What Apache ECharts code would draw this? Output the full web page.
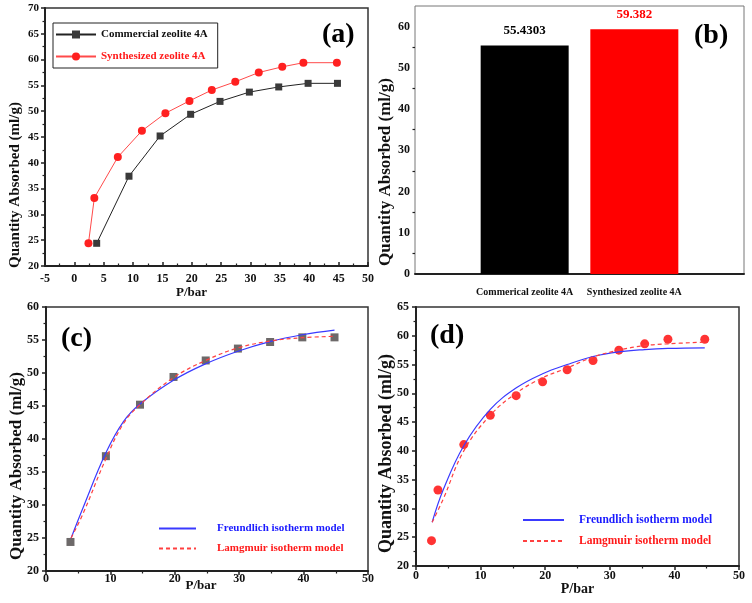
<!DOCTYPE html>
<html>
<head>
    <meta charset="utf-8">
    <title>Zeolite 4A adsorption</title>
    <style>
        html, body { margin: 0; padding: 0; background: #fff; }
        #main { width: 752px; height: 603px; }
    </style>
</head>
<body>
    <div id="main"></div>
    <script src="https://cdn.jsdelivr.net/npm/echarts@6/dist/echarts.min.js"></script>
    <script type="text/javascript">
        // measured points, commercial zeolite 4A
        var pComm = [3.8, 9.3, 14.6, 19.8, 24.8, 29.8, 34.8, 39.8, 44.8];
        var qComm = [24.4, 37.4, 45.2, 49.4, 51.9, 53.7, 54.7, 55.4, 55.4];
        // measured points, synthesized zeolite 4A
        var pSyn = [2.4, 3.4, 7.4, 11.5, 15.5, 19.6, 23.4, 27.4, 31.4, 35.4, 39.0, 44.7];
        var qSyn = [24.4, 33.2, 41.1, 46.2, 49.6, 52.0, 54.1, 55.7, 57.5, 58.6, 59.4, 59.4];
        // (b) bars
        var barCats = ['', 'Commerical zeolite 4A', 'Synthesized zeolite 4A', ''];
        var barVals = ['-', 55.4303, 59.382, '-'];
        // (c) fitted curves
        var pFitC = [3.9, 5.8, 9.3, 12.0, 14.6, 19.8, 24.8, 29.8, 34.9, 39.8, 44.8];
        var freundC = [25.0, 29.7, 37.9, 42.6, 45.3, 48.9, 51.4, 53.3, 54.8, 55.8, 56.5];
        var langC = [25.0, 28.8, 37.0, 42.3, 45.2, 49.3, 51.9, 53.8, 54.85, 55.35, 55.55];
        // (d) fitted curves
        var pFitD = [2.5, 4.2, 7.4, 11.5, 15.6, 19.6, 23.4, 27.4, 31.4, 35.4, 39.0, 44.7];
        var freundD = [27.6, 33.2, 40.9, 47.2, 51.0, 53.4, 55.0, 56.4, 57.2, 57.6, 57.8, 57.9];
        var langD = [27.6, 31.6, 40.0, 46.2, 50.1, 52.7, 54.4, 56.3, 57.5, 58.3, 58.6, 58.9];

        var FONT = '"Liberation Serif", "Times New Roman", serif';
        var FREUND = 'Freundlich isotherm model';
        var LANG = 'Lamgmuir isotherm model';

        function pairs(xs, ys) {
            return xs.map(function (x, i) { return [x, ys[i]]; });
        }

        function bold(size, color) {
            return { fontFamily: FONT, fontWeight: 'bold', fontSize: size, color: color || '#111' };
        }

        // value axis with the usual look of these panels
        function valAxis(gi, min, max, step, o) {
            return {
                type: 'value', gridIndex: gi, min: min, max: max, interval: step,
                name: o.name, nameLocation: 'middle', nameGap: o.gap, nameMoveOverlap: false,
                nameTextStyle: Object.assign(bold(o.nameSize), { padding: o.namePad || 0 }),
                splitLine: { show: false },
                axisLine: { onZero: false, lineStyle: { color: '#222', width: 2 } },
                axisTick: { inside: !!o.inside, length: 4, lineStyle: { color: '#222', width: 1.5 } },
                minorTick: { show: true, splitNumber: 2, length: 2.5, lineStyle: { color: '#222', width: 1.2 } },
                axisLabel: Object.assign(bold(o.labelSize || 12), { margin: o.margin, showMaxLabel: o.showMax !== false })
            };
        }

        var chart = echarts.init(document.getElementById('main'));

        var option = {
            animation: false,
            backgroundColor: '#fff',
            title: [
                { text: '(a)', left: 322, top: 21, padding: 0, textStyle: bold(28, '#000') },
                { text: '(b)', left: 694, top: 22, padding: 0, textStyle: bold(28, '#000') },
                { text: '(c)', left: 61, top: 325, padding: 0, textStyle: bold(28, '#000') },
                { text: '(d)', left: 430, top: 322, padding: 0, textStyle: bold(28, '#000') }
            ],
            legend: [
                {
                    left: 53, top: 23, orient: 'vertical', selectedMode: false,
                    itemWidth: 40, itemHeight: 10, itemGap: 11,
                    borderColor: '#222', borderWidth: 1, padding: [6, 10, 6, 2],
                    textStyle: bold(11),
                    data: [
                        { name: 'Commercial zeolite 4A', textStyle: { color: '#111' } },
                        { name: 'Synthesized zeolite 4A', textStyle: { color: '#ff1a1a' } }
                    ]
                },
                {
                    left: 158, top: 523, orient: 'vertical', selectedMode: false,
                    itemWidth: 37, itemHeight: 10, itemGap: 9, padding: 0,
                    itemStyle: { opacity: 0 },
                    textStyle: Object.assign(bold(11), { padding: [0, 0, 0, 16] }),
                    data: [
                        { name: FREUND, textStyle: { color: '#1a1aff' } },
                        { name: LANG, textStyle: { color: '#ff1a1a' } }
                    ]
                },
                {
                    left: 522, top: 514, orient: 'vertical', selectedMode: false,
                    itemWidth: 41, itemHeight: 10, itemGap: 9, padding: 0,
                    itemStyle: { opacity: 0 },
                    textStyle: Object.assign(bold(11.5), { padding: [0, 0, 0, 10] }),
                    data: [
                        { name: FREUND, textStyle: { color: '#1a1aff' } },
                        { name: LANG, textStyle: { color: '#ff1a1a' } }
                    ]
                }
            ],
            grid: [
                { left: 45, top: 8, width: 323, height: 258, show: true, borderColor: '#333', borderWidth: 1.5 },
                { left: 415, top: 6, width: 329, height: 268, show: true, borderColor: '#777', borderWidth: 1 },
                { left: 46, top: 307, width: 322, height: 264, show: true, borderColor: '#333', borderWidth: 1.5 },
                { left: 416, top: 307, width: 323, height: 259, show: true, borderColor: '#333', borderWidth: 1.5 }
            ],
            xAxis: [
                valAxis(0, -5, 50, 5, { name: 'P/bar', gap: 20, nameSize: 13, namePad: [0, 30, 0, 0], inside: true, margin: 7 }),
                {
                    type: 'category', gridIndex: 1, data: barCats, boundaryGap: false,
                    axisLine: { lineStyle: { color: '#222', width: 2 } },
                    axisTick: { show: false },
                    axisLabel: Object.assign(bold(10), { interval: 0, margin: 13 })
                },
                valAxis(2, 0, 50, 10, { name: 'P/bar', gap: 8.5, nameSize: 13, namePad: [0, 12, 0, 0], margin: 2 }),
                valAxis(3, 0, 50, 10, { name: 'P/bar', gap: 16, nameSize: 14, margin: 4 })
            ],
            yAxis: [
                valAxis(0, 20, 70, 5, { name: 'Quantity Absorbed (ml/g)', gap: 22, nameSize: 15, namePad: [0, 96, 0, 0], margin: 6, labelSize: 11 }),
                valAxis(1, 0, 65, 10, { name: 'Quantity Absorbed (ml/g)', gap: 21, nameSize: 17, namePad: [0, 64, 0, 0], margin: 5, showMax: false }),
                valAxis(2, 20, 60, 5, { name: 'Quantity Absorbed (ml/g)', gap: 21, nameSize: 17, namePad: [0, 54, 0, 0], margin: 7 }),
                valAxis(3, 20, 65, 5, { name: 'Quantity Absorbed (ml/g)', gap: 21, nameSize: 18, namePad: [0, 34, 0, 0], margin: 7 })
            ],
            series: [
                {
                    name: 'Commercial zeolite 4A', type: 'line', xAxisIndex: 0, yAxisIndex: 0,
                    data: pairs(pComm, qComm), symbol: 'rect', symbolSize: 7,
                    itemStyle: { color: '#3a3a3a' }, lineStyle: { color: '#222', width: 1 }
                },
                {
                    name: 'Synthesized zeolite 4A', type: 'line', xAxisIndex: 0, yAxisIndex: 0,
                    data: pairs(pSyn, qSyn), symbol: 'circle', symbolSize: 8,
                    itemStyle: { color: '#ff2020' }, lineStyle: { color: '#ff4a4a', width: 1 }
                },
                {
                    name: 'Quantity', type: 'bar', xAxisIndex: 1, yAxisIndex: 1, barWidth: 88,
                    data: barVals.map(function (v, i) {
                        var c = i === 2 ? '#ff0000' : '#000';
                        return { value: v, itemStyle: { color: c }, label: { color: c } };
                    }),
                    label: Object.assign(bold(13), { show: true, position: 'top', distance: 8 })
                },
                {
                    name: FREUND, type: 'line', xAxisIndex: 2, yAxisIndex: 2, smooth: 0.4,
                    data: pairs(pFitC, freundC), symbol: 'none',
                    itemStyle: { color: '#3a3aff' }, lineStyle: { color: '#3a3aff', width: 1.2 }
                },
                {
                    name: LANG, type: 'line', xAxisIndex: 2, yAxisIndex: 2, smooth: 0.4,
                    data: pairs(pFitC, langC), symbol: 'none',
                    itemStyle: { color: '#ff4040' }, lineStyle: { color: '#ff4040', width: 1.2, type: [4, 3] }
                },
                {
                    name: 'Commercial data', type: 'scatter', xAxisIndex: 2, yAxisIndex: 2,
                    data: pairs(pComm, qComm), symbol: 'rect', symbolSize: 8,
                    itemStyle: { color: '#484444' }
                },
                {
                    name: FREUND, type: 'line', xAxisIndex: 3, yAxisIndex: 3, smooth: 0.4,
                    data: pairs(pFitD, freundD), symbol: 'none',
                    itemStyle: { color: '#3a3aff' }, lineStyle: { color: '#3a3aff', width: 1.2 }
                },
                {
                    name: LANG, type: 'line', xAxisIndex: 3, yAxisIndex: 3, smooth: 0.4,
                    data: pairs(pFitD, langD), symbol: 'none',
                    itemStyle: { color: '#ff4040' }, lineStyle: { color: '#ff4040', width: 1.2, type: [4, 3] }
                },
                {
                    name: 'Synthesized data', type: 'scatter', xAxisIndex: 3, yAxisIndex: 3,
                    data: pairs(pSyn, qSyn), symbol: 'circle', symbolSize: 9,
                    itemStyle: { color: '#ff0000' }
                }
            ]
        };

        chart.setOption(option);
    </script>
</body>
</html>
